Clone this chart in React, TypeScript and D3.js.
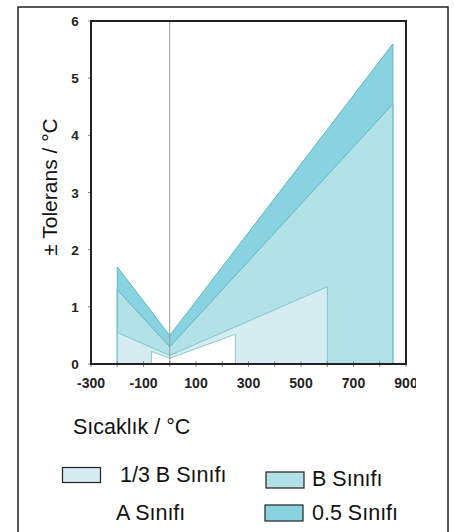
import React from "react";
import * as d3 from "d3";

// Tolerance bands: [temperature °C, ± tolerance °C]
const class05: [number, number][] = [[-200, 1.7], [0, 0.5], [850, 5.6]];
const classB: [number, number][] = [[-200, 1.3], [0, 0.3], [850, 4.55]];
const classA: [number, number][] = [[-200, 0.55], [0, 0.15], [600, 1.35]];
const classThirdB: [number, number][] = [[-70, 0.22], [0, 0.1], [250, 0.52]];

const xTicks = [-300, -100, 100, 300, 500, 700, 900];
const xMinorTicks = [-300, -200, -100, 0, 100, 200, 300, 400, 500, 600, 700, 800, 900];
const yTicks = [0, 1, 2, 3, 4, 5, 6];

const legendLabels = ["1/3 B Sınıfı", "A Sınıfı", "B Sınıfı", "0.5 Sınıfı"];

const C_THIRD = "#d5edf1";
const C_A = "#d5edf1";
const C_B = "#b2e1e8";
const C_05 = "#88d3df";
const STROKE = "#5fb8c3";

export default function App() {
  const W = 454, H = 532;
  const left = 91, right = 406, top = 21, bottom = 364;
  const x = d3.scaleLinear().domain([-300, 900]).range([left, right]);
  const y = d3.scaleLinear().domain([0, 6]).range([bottom, top]);

  const area = d3
    .area<[number, number]>()
    .x((d) => x(d[0]))
    .y0(() => y(0))
    .y1((d) => y(d[1]));

  const font = "Arial, 'Liberation Sans', sans-serif";
  const big = 21.5;

  return (
    <svg width={W} height={H} style={{ position: "absolute", left: 0, top: 0 }}>
      <defs>
        <clipPath id="tickclip">
          <rect x={0} y={0} width={416} height={H} />
        </clipPath>
      </defs>
      <rect x={0} y={0} width={W} height={H} fill="#fff" />
      <rect x={18} y={7} width={430} height={540} fill="none" stroke="#222" strokeWidth={1.5} />

      {/* bands */}
      <path d={area(class05) || ""} fill={C_05} stroke={STROKE} strokeWidth={1} />
      <path d={area(classB) || ""} fill={C_B} stroke={STROKE} strokeWidth={1} />
      <path d={area(classA) || ""} fill={C_A} stroke={STROKE} strokeWidth={1} strokeOpacity={0.7} />
      <path d={area(classThirdB) || ""} fill="#fff" stroke={STROKE} strokeWidth={1} strokeOpacity={0.7} />

      {/* zero line */}
      <line x1={x(0)} x2={x(0)} y1={y(6)} y2={y(0)} stroke="#999" strokeWidth={1} />

      {/* ticks */}
      {xMinorTicks.map((t) => (
        <line key={"xt" + t} x1={x(t)} x2={x(t)} y1={y(0) - 3} y2={y(0) + 3} stroke="#888" strokeWidth={1} />
      ))}
      {yTicks.map((t) => (
        <line key={"yt" + t} x1={left - 3} x2={left} y1={y(t)} y2={y(t)} stroke="#888" strokeWidth={1} />
      ))}

      {/* plot frame */}
      <rect x={left} y={top} width={right - left} height={bottom - top} fill="none" stroke="#222" strokeWidth={2} />

      {/* tick labels */}
      <g clipPath="url(#tickclip)">
        {xTicks.map((t) => (
          <text key={"xl" + t} x={x(t)} y={388} textAnchor="middle" fontFamily={font} fontSize={14} fontWeight="bold" fill="#222">
            {t}
          </text>
        ))}
      </g>
      {yTicks.map((t) => (
        <text key={"yl" + t} x={75} y={y(t) + 5} textAnchor="middle" fontFamily={font} fontSize={13.5} fontWeight="bold" fill="#222">
          {t}
        </text>
      ))}

      {/* axis titles */}
      <text transform={`translate(57,187) rotate(-90)`} textAnchor="middle" fontFamily={font} fontSize={21} fill="#111">
        ± Tolerans / °C
      </text>
      <text x={73} y={434} fontFamily={font} fontSize={big} fill="#111">
        Sıcaklık / °C
      </text>

      {/* legend */}
      <rect x={62.5} y={467.5} width={38} height={15} fill={C_THIRD} stroke="#222" strokeWidth={1.2} />
      <text x={120} y={482} fontFamily={font} fontSize={big} fill="#111">{legendLabels[0]}</text>
      <text x={116} y={520} fontFamily={font} fontSize={big} fill="#111">{legendLabels[1]}</text>
      <rect x={266} y={472} width={38} height={16} fill={C_B} stroke="#222" strokeWidth={1.2} />
      <text x={312} y={486} fontFamily={font} fontSize={big} fill="#111">{legendLabels[2]}</text>
      <rect x={265} y={505} width={38} height={16} fill={C_05} stroke="#222" strokeWidth={1.2} />
      <text x={312} y={520} fontFamily={font} fontSize={big} fill="#111">{legendLabels[3]}</text>
    </svg>
  );
}
